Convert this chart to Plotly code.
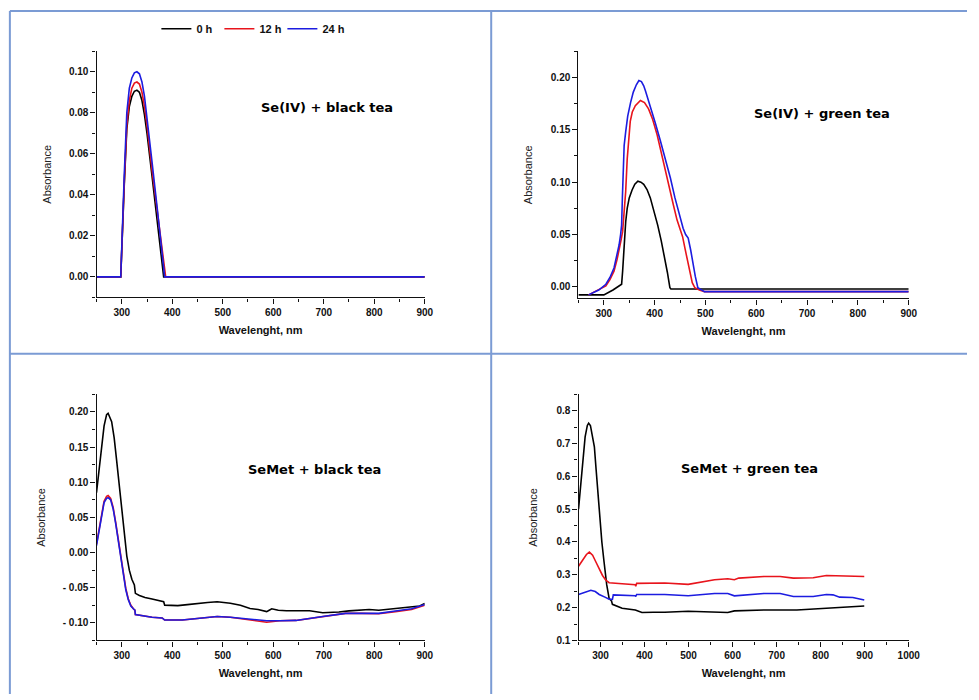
import plotly.graph_objects as go

W, H = 979, 700

# ---------------- Data ----------------
series_names = ["0 h", "12 h", "24 h"]
series_colors = ["#000000", "#e8141c", "#1c1ce0"]

panel_titles = ["Se(IV) + black tea", "Se(IV) + green tea", "SeMet + black tea", "SeMet + green tea"]
x_title = "Wavelenght, nm"
y_title = "Absorbance"

# Panel 1: Se(IV) + black tea
p1_wl_0h = [250, 298, 305, 310, 315, 320, 325, 330, 335, 340, 345, 350, 360, 370, 380, 383, 900]
p1_ab_0h = [0, 0, 0.045, 0.072, 0.083, 0.088, 0.0905, 0.091, 0.090, 0.086, 0.079, 0.070, 0.049, 0.028, 0.008, 0, 0]
p1_wl_12h = [250, 298, 305, 310, 315, 320, 325, 330, 335, 340, 345, 350, 360, 370, 380, 387, 900]
p1_ab_12h = [0, 0, 0.046, 0.074, 0.086, 0.092, 0.0945, 0.095, 0.094, 0.090, 0.083, 0.074, 0.052, 0.032, 0.013, 0, 0]
p1_wl_24h = [250, 298, 305, 310, 315, 320, 325, 330, 335, 340, 345, 350, 360, 370, 380, 385, 900]
p1_ab_24h = [0, 0, 0.050, 0.080, 0.092, 0.097, 0.0995, 0.100, 0.099, 0.095, 0.088, 0.078, 0.056, 0.034, 0.012, 0, 0]

# Panel 2: Se(IV) + green tea
p2_wl_0h = [250, 300, 318, 330, 335, 337, 339.5, 343, 346, 350, 355.6, 361, 367, 373, 378.5, 385,
            391.5, 399, 406, 413, 420, 425, 430, 432, 900]
p2_ab_0h = [-0.0076, -0.0076, -0.003, 0.001, 0.0025, 0.015, 0.040, 0.062, 0.075, 0.085, 0.0925, 0.098,
            0.101, 0.100, 0.098, 0.093, 0.085, 0.072, 0.059, 0.044, 0.028, 0.014, -0.0007, -0.002, -0.002]
p2_wl_12h = [270, 290, 304, 312, 320, 326, 330, 334, 337, 340, 343, 346, 349, 352, 356, 362, 372, 380,
             388, 396, 405, 413, 421, 429, 437, 444, 450, 455, 460, 465, 469.5, 474, 479, 488, 498, 900]
p2_ab_12h = [-0.0076, -0.003, 0.001, 0.007, 0.015, 0.026, 0.034, 0.045, 0.053, 0.070, 0.091, 0.122,
             0.145, 0.158, 0.167, 0.173, 0.178, 0.176, 0.170, 0.160, 0.145, 0.129, 0.113, 0.095, 0.078,
             0.064, 0.055, 0.048, 0.036, 0.024, 0.012, 0.004, -0.0007, -0.003, -0.0045, -0.0045]
p2_wl_24h = [270, 290, 304, 312, 320, 326, 330, 333, 335, 336.5, 338, 340, 343, 347, 352.6, 358, 364,
             369, 374, 378.5, 382, 385, 390, 395, 401, 411, 421, 431, 440, 448, 456, 461, 466, 471,
             475.5, 480, 485, 492, 498, 900]
p2_ab_24h = [-0.0076, -0.003, 0.0025, 0.009, 0.018, 0.030, 0.040, 0.050, 0.059, 0.085, 0.122, 0.135,
             0.148, 0.163, 0.176, 0.186, 0.193, 0.197, 0.196, 0.192, 0.187, 0.1825, 0.175, 0.167, 0.157,
             0.140, 0.1225, 0.104, 0.085, 0.070, 0.056, 0.050, 0.0467, 0.035, 0.021, 0.010, -0.0007,
             -0.003, -0.0045, -0.0045]

# Panel 3: SeMet + black tea
p3_wl_0h = [250, 255, 260, 265, 270, 273, 280, 285, 290, 295, 300, 305, 310, 315, 320, 325, 327, 335,
            346, 360, 378, 383, 385, 400, 411, 430, 450, 470, 489, 500, 515, 535, 554, 570, 587, 592,
            597, 610, 626, 650, 672, 698, 715, 730, 750, 776, 790, 809, 825, 842, 860, 874, 890, 900]
p3_ab_0h = [0.085, 0.115, 0.150, 0.180, 0.196, 0.198, 0.186, 0.163, 0.130, 0.094, 0.058, 0.025, -0.005,
            -0.025, -0.038, -0.046, -0.058, -0.061, -0.064, -0.066, -0.069, -0.070, -0.0748, -0.0748,
            -0.0755, -0.074, -0.072, -0.071, -0.070, -0.0705, -0.072, -0.075, -0.0795, -0.081, -0.084,
            -0.082, -0.080, -0.082, -0.0828, -0.0828, -0.0828, -0.0856, -0.0855, -0.0846, -0.083,
            -0.082, -0.081, -0.082, -0.081, -0.079, -0.078, -0.0775, -0.076, -0.0724]
p3_wl_12h = [250, 255, 260, 265, 270, 273, 278, 283, 288, 293, 298, 303, 308, 313, 318, 323, 326, 327,
             340, 360, 380, 385, 420, 450, 489, 515, 554, 575, 587, 600, 613, 645, 698, 743, 776, 809,
             842, 874, 900]
p3_ab_12h = [0.012, 0.033, 0.056, 0.073, 0.080, 0.081, 0.077, 0.064, 0.043, 0.019, -0.007, -0.031,
             -0.051, -0.066, -0.075, -0.080, -0.082, -0.088, -0.090, -0.092, -0.093, -0.096, -0.096,
             -0.0935, -0.091, -0.092, -0.096, -0.098, -0.099, -0.098, -0.097, -0.0965, -0.091, -0.0865,
             -0.0865, -0.087, -0.084, -0.081, -0.075]
p3_wl_24h = [250, 255, 260, 265, 270, 273, 278, 283, 288, 293, 298, 303, 308, 313, 318, 323, 326, 327,
             340, 360, 380, 385, 420, 450, 489, 515, 554, 587, 613, 645, 698, 743, 776, 809, 842, 874, 900]
p3_ab_24h = [0.0099, 0.031, 0.054, 0.071, 0.077, 0.078, 0.075, 0.062, 0.041, 0.017, -0.009, -0.033,
             -0.053, -0.067, -0.076, -0.080, -0.082, -0.088, -0.090, -0.092, -0.093, -0.096, -0.096,
             -0.0935, -0.091, -0.092, -0.095, -0.097, -0.097, -0.0965, -0.091, -0.0865, -0.0865,
             -0.0865, -0.083, -0.080, -0.074]

# Panel 4: SeMet + green tea
p4_wl_0h = [250, 255, 260, 265, 270, 273, 277, 281, 286, 290, 297, 303, 308, 314, 319.5, 325, 327, 349,
            379, 394, 420, 446, 499, 559, 589, 604, 671, 746, 821, 899]
p4_ab_0h = [0.50, 0.58, 0.66, 0.72, 0.755, 0.762, 0.755, 0.73, 0.69, 0.62, 0.49, 0.40, 0.339, 0.27,
            0.228, 0.22, 0.21, 0.198, 0.193, 0.185, 0.186, 0.186, 0.189, 0.186, 0.185, 0.19, 0.193,
            0.193, 0.198, 0.205]
p4_wl_12h = [250, 260, 268, 274.6, 282, 289.5, 297, 304.5, 312, 319.5, 349, 379, 380, 382, 446, 499,
             559, 589, 604, 614, 671, 708, 738, 783, 813, 858, 899]
p4_ab_12h = [0.326, 0.345, 0.362, 0.369, 0.360, 0.339, 0.318, 0.298, 0.284, 0.276, 0.273, 0.270, 0.265,
             0.274, 0.275, 0.271, 0.285, 0.288, 0.285, 0.290, 0.295, 0.295, 0.290, 0.291, 0.298, 0.296,
             0.295]
p4_wl_24h = [250, 265, 278, 288, 297, 310, 319.5, 327, 329, 379, 380, 382, 446, 499, 559, 589, 604, 671,
             708, 738, 783, 813, 828, 843, 873, 899]
p4_ab_24h = [0.240, 0.248, 0.253, 0.249, 0.240, 0.232, 0.226, 0.225, 0.239, 0.236, 0.234, 0.240, 0.240,
             0.236, 0.243, 0.243, 0.236, 0.243, 0.243, 0.234, 0.234, 0.240, 0.239, 0.232, 0.231, 0.223]

panel_series = [
    [(p1_wl_0h, p1_ab_0h), (p1_wl_12h, p1_ab_12h), (p1_wl_24h, p1_ab_24h)],
    [(p2_wl_0h, p2_ab_0h), (p2_wl_12h, p2_ab_12h), (p2_wl_24h, p2_ab_24h)],
    [(p3_wl_0h, p3_ab_0h), (p3_wl_12h, p3_ab_12h), (p3_wl_24h, p3_ab_24h)],
    [(p4_wl_0h, p4_ab_0h), (p4_wl_12h, p4_ab_12h), (p4_wl_24h, p4_ab_24h)],
]

p3_ytick_vals = [-0.10, -0.05, 0.00, 0.05, 0.10, 0.15, 0.20]
p3_ytick_text = ["- 0.10", "- 0.05", "0.00", "0.05", "0.10", "0.15", "0.20"]

# ---------------- Layout helpers ----------------
FONT = "Liberation Sans, Arial, sans-serif"
TITLE_FONT = "DejaVu Sans, Liberation Sans, sans-serif"


def fx(px):
    return px / W


def fy(py):
    return 1 - py / H


# plot areas in pixels: (x0, x1, ytop, ybottom)
areas = [
    (97.7, 430.0, 51.7, 300.0),
    (585.6, 920.0, 51.7, 301.0),
    (97.7, 430.0, 397.7, 646.0),
    (585.7, 920.0, 397.7, 646.0),
]
x_ranges = [[250, 900], [250, 900], [250, 900], [250, 1000]]
y_ranges = [[-0.01, 0.11], [-0.011, 0.225], [-0.125, 0.225], [0.1, 0.85]]
y_dticks = [0.02, 0.05, 0.05, 0.1]
y_formats = [".2f", ".2f", ".2f", ".1f"]
y_standoffs = [15, 15, 14, 16]
title_pos = [(331.5, 108), (832.5, 114), (318, 474), (759, 473)]

fig = go.Figure()

for i, series in enumerate(panel_series):
    ax = "" if i == 0 else str(i + 1)
    for j, (wl, ab) in enumerate(series):
        fig.add_trace(go.Scatter(
            x=wl, y=ab, mode="lines",
            line=dict(color=series_colors[j], width=1.6),
            name=series_names[j], showlegend=(i == 0),
            xaxis="x" + ax, yaxis="y" + ax,
        ))

    x0, x1, yt, yb = areas[i]
    common = dict(
        showline=True, linecolor="#111", linewidth=1.3, mirror=False,
        showgrid=False, zeroline=False,
        ticks="outside", ticklen=5, tickwidth=1.2, tickcolor="#111",
        tickfont=dict(family=FONT, size=10, color="#111", weight="bold"),
    )
    xa = dict(common)
    xa.update(
        domain=[fx(x0), fx(x1)], range=x_ranges[i], anchor="y" + ax,
        tick0=0, dtick=100,
        minor=dict(dtick=50, tick0=0, ticks="outside", ticklen=3, tickcolor="#111", tickwidth=1),
        title=dict(text=x_title, standoff=9,
                   font=dict(family=FONT, size=11, color="#111", weight="bold")),
    )
    ya = dict(common)
    ya.update(
        domain=[fy(yb), fy(yt)], range=y_ranges[i], anchor="x" + ax,
        tickformat=y_formats[i],
        minor=dict(dtick=y_dticks[i] / 2, tick0=0, ticks="outside", ticklen=3, tickcolor="#111", tickwidth=1),
        title=dict(text=y_title, standoff=y_standoffs[i],
                   font=dict(family=FONT, size=11, color="#222")),
    )
    if i == 2:
        ya.update(tickmode="array", tickvals=p3_ytick_vals, ticktext=p3_ytick_text)
    else:
        ya.update(tick0=0, dtick=y_dticks[i])
    fig.layout["xaxis" + ax] = xa
    fig.layout["yaxis" + ax] = ya

    tx, ty = title_pos[i]
    fig.add_annotation(
        x=fx(tx), y=fy(ty), xref="paper", yref="paper", showarrow=False,
        text=panel_titles[i], xanchor="center", yanchor="middle",
        font=dict(family=TITLE_FONT, size=13, color="#000", weight="bold"),
    )

# Grid borders (table-like frame around the four panels)
border_color = "#7b9bd4"
shapes = [
    dict(x0=10, x1=979, y0=11, y1=11),
    dict(x0=10, x1=10, y0=11, y1=700),
    dict(x0=497.3, x1=497.3, y0=11, y1=700),
    dict(x0=10, x1=979, y0=356.7, y1=356.7),
]
for s in shapes:
    fig.add_shape(type="line", xref="paper", yref="paper",
                  x0=fx(s["x0"]), x1=fx(s["x1"]), y0=fy(s["y0"]), y1=fy(s["y1"]),
                  line=dict(color=border_color, width=2))

fig.update_layout(
    width=W, height=H,
    margin=dict(l=0, r=0, t=0, b=0),
    paper_bgcolor="white", plot_bgcolor="white",
    font=dict(family=FONT, color="#111"),
    legend=dict(
        orientation="h", x=fx(254), xanchor="center", y=fy(29), yanchor="middle",
        font=dict(family=FONT, size=11, color="#111", weight="bold"),
        itemwidth=30, tracegroupgap=0, bgcolor="rgba(0,0,0,0)",
        entrywidth=18, entrywidthmode="pixels",
    ),
)

# remove the browser's default page margin so the 979x700 figure fills the window exactly
page_fix = (
    "var s=document.createElement('style');"
    "s.textContent='html,body{margin:0;padding:0;overflow:hidden;}';"
    "document.head.appendChild(s);"
)

fig.write_html("out.html", config={"displayModeBar": False}, post_script=page_fix)
